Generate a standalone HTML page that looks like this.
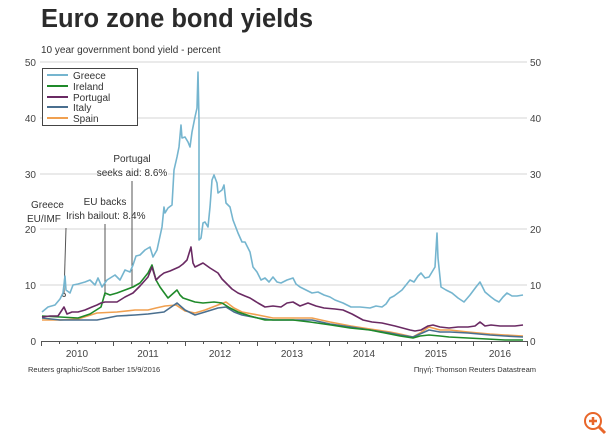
<!DOCTYPE html>
<html><head><meta charset="utf-8"><style>
html,body{margin:0;padding:0;background:#fff;}
svg{display:block;font-family:"Liberation Sans",Arial,sans-serif;}
</style></head><body>
<svg width="610" height="440" viewBox="0 0 610 440" xmlns="http://www.w3.org/2000/svg">
<text x="41" y="27" font-size="25.5" font-weight="bold" fill="#2b2b2b">Euro zone bond yields</text>
<text x="41" y="53" font-size="10" fill="#333">10 year government bond yield - percent</text>
<g stroke="#d4d4d4" stroke-width="1">
<line x1="40" y1="62" x2="527" y2="62"/><line x1="40" y1="118" x2="527" y2="118"/>
<line x1="40" y1="174" x2="527" y2="174"/><line x1="40" y1="229" x2="527" y2="229"/>
<line x1="40" y1="285" x2="527" y2="285"/>
</g>
<g font-size="10" fill="#444" text-anchor="end">
<text x="36" y="66">50</text><text x="36" y="122">40</text><text x="36" y="178">30</text><text x="36" y="233">20</text><text x="36" y="289">10</text><text x="36" y="345">0</text>
</g>
<g font-size="10" fill="#444">
<text x="530" y="66">50</text><text x="530" y="122">40</text><text x="530" y="178">30</text><text x="530" y="233">20</text><text x="530" y="289">10</text><text x="530" y="345">0</text>
</g>
<!-- annotation text with white bg -->
<rect x="24" y="198" width="40" height="28" fill="#fff"/>
<rect x="64" y="196" width="82" height="28" fill="#fff"/>
<rect x="108" y="152" width="60" height="27" fill="#fff"/>
<g font-size="10" fill="#333">
<text x="31" y="208">Greece</text><text x="27" y="222">EU/IMF</text>
<text x="105" y="205" text-anchor="middle">EU backs</text><text x="66" y="219">Irish bailout: 8.4%</text>
<text x="132" y="162" text-anchor="middle">Portugal</text><text x="132" y="176" text-anchor="middle">seeks aid: 8.6%</text>
</g>
<g stroke="#555" stroke-width="1" fill="none">
<line x1="66" y1="228" x2="64" y2="294"/><circle cx="64" cy="295" r="1.5"/>
<line x1="105" y1="224" x2="105" y2="296"/>
<line x1="132" y1="181" x2="132" y2="288"/>
</g>
<g fill="none" stroke-width="1.6" stroke-linejoin="round">
<polyline stroke="#f0a050" points="42,320 60,320 78,319 97,313 117,312 135,310 148,310 156,308 165,306 176,305 185,311 195,313 205,310 218,305 226,302 234,308 242,312 258,315 273,318 290,318 312,318 330,322 351,326 370,329 390,332 400,334 413,337 420,333 429,327 440,330 450,330 468,332 490,334 505,335 523,336"/>
<polyline stroke="#4a6f8f" points="42,318 60,320 78,320 97,320 117,316 135,315 148,314 156,313 164,312 177,303 185,310 195,315 205,312 218,308 226,307 234,312 242,315 258,318 273,320 290,320 312,320 330,324 351,327 370,330 390,333 400,335 413,337 420,334 429,330 440,332 450,332 468,333 490,335 505,336 523,337"/>
<polyline stroke="#1f8a2a" points="42,316 60,317 78,318 90,314 101,307 105,293 110,295 117,293 125,290 133,287 140,283 148,273 152,265 156,280 160,287 168,298 177,290 180,295 183,298 195,302 203,303 214,302 222,303 230,308 238,312 250,316 265,320 280,320 293,320 310,322 331,325 350,328 370,330 390,334 400,336 413,338 420,336 429,335 440,336 449,337 468,338 487,339 505,340 523,340"/>
<polyline stroke="#6a2a63" points="42,317 50,316 58,316 64,307 67,314 72,312 78,312 85,310 92,307 97,305 101,303 105,302 110,302 117,302 125,297 133,293 140,286 148,277 152,267 156,280 160,276 164,273 170,271 179,267 183,264 187,260 191,247 193,263 195,267 203,263 210,268 218,273 222,279 226,283 232,289 238,293 245,296 250,298 258,303 265,307 273,306 281,307 287,303 293,302 300,306 308,303 316,306 324,308 335,309 343,310 352,314 363,320 372,322 382,323 395,326 410,330 415,331 421,330 428,326 433,325 440,327 449,328 458,327 468,327 475,326 480,322 485,326 491,325 500,326 507,326 515,326 523,325"/>
<polyline stroke="#75b5cf" points="42,312 48,307 55,305 60,299 63,293 65,276 66,290 70,293 73,285 78,284 85,282 90,280 95,285 98,278 102,287 107,280 115,275 120,280 125,270 130,272 133,265 136,256 140,255 145,250 150,247 153,257 157,250 162,227 164,207 165,213 168,208 172,205 174,170 177,157 179,147 181,125 182,138 185,137 188,142 190,147 192,132 195,117 197,108 198,72 199,120 199,240 201,238 203,223 205,222 208,227 210,207 212,180 214,175 217,183 218,193 222,190 224,185 226,203 230,207 233,220 238,233 242,242 245,242 250,252 253,267 257,272 261,280 265,278 269,282 273,277 277,282 281,283 287,280 293,278 296,284 300,287 306,290 312,293 318,292 324,295 330,297 335,300 343,303 351,307 360,307 370,308 376,306 382,307 386,304 390,298 394,296 398,293 402,290 406,285 410,280 414,282 418,276 421,273 425,278 429,277 432,272 435,267 437,233 438,258 441,287 446,290 452,293 458,298 464,302 470,295 476,287 480,282 485,292 491,297 495,300 499,302 503,297 507,293 512,296 517,296 523,295"/>
</g>
<!-- legend -->
<rect x="42.5" y="68.5" width="95" height="57" fill="#fff" stroke="#444" stroke-width="1"/>
<g stroke-width="2">
<line x1="47" y1="75" x2="68" y2="75" stroke="#75b5cf"/>
<line x1="47" y1="86" x2="68" y2="86" stroke="#1f8a2a"/>
<line x1="47" y1="97" x2="68" y2="97" stroke="#6a2a63"/>
<line x1="47" y1="107" x2="68" y2="107" stroke="#4a6f8f"/>
<line x1="47" y1="118" x2="68" y2="118" stroke="#f0a050"/>
</g>
<g font-size="10" fill="#333">
<text x="73" y="79">Greece</text><text x="73" y="90">Ireland</text><text x="73" y="101">Portugal</text><text x="73" y="111">Italy</text><text x="73" y="122">Spain</text>
</g>
<!-- axis -->
<line x1="41" y1="341.5" x2="528" y2="341.5" stroke="#555" stroke-width="1"/>
<g stroke="#555" stroke-width="1">
<line x1="41.5" y1="341" x2="41.5" y2="346"/><line x1="59.5" y1="341" x2="59.5" y2="344"/><line x1="77.5" y1="341" x2="77.5" y2="344"/><line x1="95.5" y1="341" x2="95.5" y2="344"/><line x1="113.5" y1="341" x2="113.5" y2="346"/><line x1="131.5" y1="341" x2="131.5" y2="344"/><line x1="149.5" y1="341" x2="149.5" y2="344"/><line x1="167.5" y1="341" x2="167.5" y2="344"/><line x1="185.5" y1="341" x2="185.5" y2="346"/><line x1="203.5" y1="341" x2="203.5" y2="344"/><line x1="221.5" y1="341" x2="221.5" y2="344"/><line x1="239.5" y1="341" x2="239.5" y2="344"/><line x1="257.5" y1="341" x2="257.5" y2="346"/><line x1="275.5" y1="341" x2="275.5" y2="344"/><line x1="293.5" y1="341" x2="293.5" y2="344"/><line x1="311.5" y1="341" x2="311.5" y2="344"/><line x1="329.5" y1="341" x2="329.5" y2="346"/><line x1="347.5" y1="341" x2="347.5" y2="344"/><line x1="365.5" y1="341" x2="365.5" y2="344"/><line x1="383.5" y1="341" x2="383.5" y2="344"/><line x1="401.5" y1="341" x2="401.5" y2="346"/><line x1="419.5" y1="341" x2="419.5" y2="344"/><line x1="437.5" y1="341" x2="437.5" y2="344"/><line x1="455.5" y1="341" x2="455.5" y2="344"/><line x1="473.5" y1="341" x2="473.5" y2="346"/><line x1="491.5" y1="341" x2="491.5" y2="344"/><line x1="509.5" y1="341" x2="509.5" y2="344"/><line x1="527.5" y1="341" x2="527.5" y2="346"/>
</g>
<g font-size="10" fill="#444" text-anchor="middle">
<text x="77" y="357">2010</text><text x="148" y="357">2011</text><text x="220" y="357">2012</text><text x="292" y="357">2013</text><text x="364" y="357">2014</text><text x="436" y="357">2015</text><text x="500" y="357">2016</text>
</g>
<text x="28" y="372" font-size="7.5" fill="#333">Reuters graphic/Scott Barber 15/9/2016</text>
<text x="536" y="372" font-size="7.5" fill="#333" text-anchor="end">Πηγή: Thomson Reuters Datastream</text>
<!-- zoom icon -->
<g stroke="#e8662a" fill="none" stroke-width="2">
<circle cx="593" cy="421" r="8"/>
<line x1="599" y1="427" x2="605" y2="433" stroke-width="3"/>
</g>
<g stroke="#e8662a" stroke-width="2.5">
<line x1="589" y1="421" x2="597" y2="421"/><line x1="593" y1="417" x2="593" y2="425"/>
</g>
</svg>
</body></html>
